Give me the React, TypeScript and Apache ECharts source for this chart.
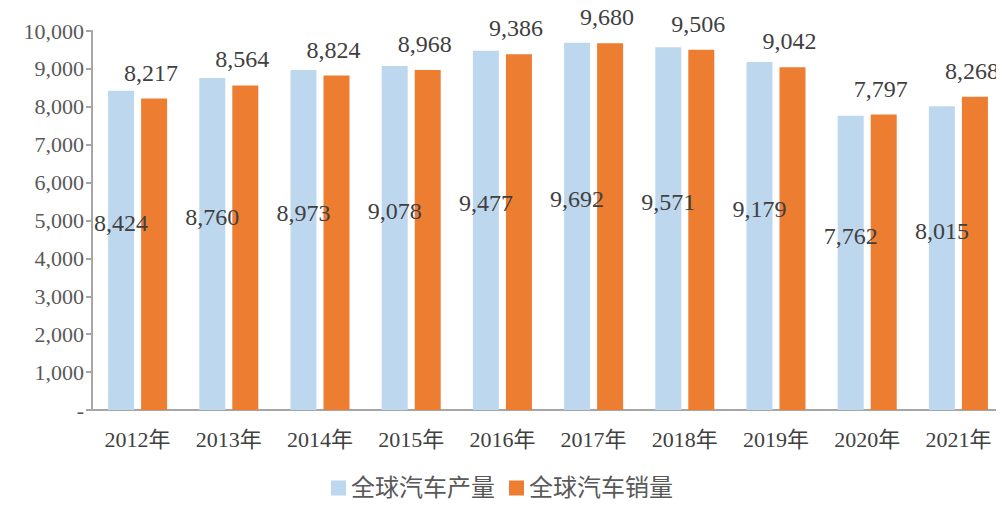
import React, { useEffect, useRef } from "react";
import * as echarts from "echarts";

const categories = ["2012年", "2013年", "2014年", "2015年", "2016年", "2017年", "2018年", "2019年", "2020年", "2021年"];
const production = [8424, 8760, 8973, 9078, 9477, 9692, 9571, 9179, 7762, 8015];
const sales = [8217, 8564, 8824, 8968, 9386, 9680, 9506, 9042, 7797, 8268];
const seriesNames = ["全球汽车产量", "全球汽车销量"];

const fmt = (v: number) => (v === 0 ? "-" : v.toLocaleString("en-US"));
const FONT = "'Liberation Serif', 'Noto Sans CJK SC', serif";

export default function App() {
  const ref = useRef<HTMLDivElement>(null);
  useEffect(() => {
    if (!ref.current) return;
    const chart = echarts.init(ref.current, undefined, { renderer: "svg" });
    chart.setOption({
      animation: false,
      textStyle: { fontFamily: FONT },
      grid: { left: 92, right: 0, top: 31, bottom: 97 },
      legend: {
        data: seriesNames,
        bottom: 2,
        left: "center",
        icon: "rect",
        itemWidth: 15,
        itemHeight: 15,
        itemGap: 14,
        textStyle: { fontFamily: FONT, fontSize: 24, color: "#595959" },
      },
      xAxis: {
        type: "category",
        data: categories,
        axisLine: { lineStyle: { color: "#A6A6A6", width: 2 } },
        axisTick: { show: false },
        axisLabel: { fontFamily: FONT, fontSize: 22, color: "#404040", margin: 18 },
      },
      yAxis: {
        type: "value",
        min: 0,
        max: 10000,
        interval: 1000,
        splitLine: { show: false },
        axisLine: { show: true, lineStyle: { color: "#A6A6A6", width: 2 } },
        axisTick: { show: true, length: 6, lineStyle: { color: "#A6A6A6", width: 2 } },
        axisLabel: { fontFamily: FONT, fontSize: 22, color: "#595959", margin: 8, formatter: fmt },
      },
      series: [
        {
          name: seriesNames[0],
          type: "bar",
          data: production,
          barWidth: 26,
          barGap: "27%",
          itemStyle: { color: "#BDD7EE" },
          label: {
            show: true,
            position: "inside",
            offset: [0, -27],
            fontFamily: FONT,
            fontSize: 24,
            color: "#404040",
            formatter: (p: any) => fmt(p.value),
          },
        },
        {
          name: seriesNames[1],
          type: "bar",
          data: sales,
          barWidth: 26,
          itemStyle: { color: "#ED7D31" },
          label: {
            show: true,
            position: "top",
            distance: 14,
            offset: [-3, 0],
            fontFamily: FONT,
            fontSize: 24,
            color: "#404040",
            formatter: (p: any) => fmt(p.value),
          },
        },
      ],
    });
    return () => chart.dispose();
  }, []);
  return <div ref={ref} style={{ width: 1004, height: 507, margin: -8 }} />;
}
